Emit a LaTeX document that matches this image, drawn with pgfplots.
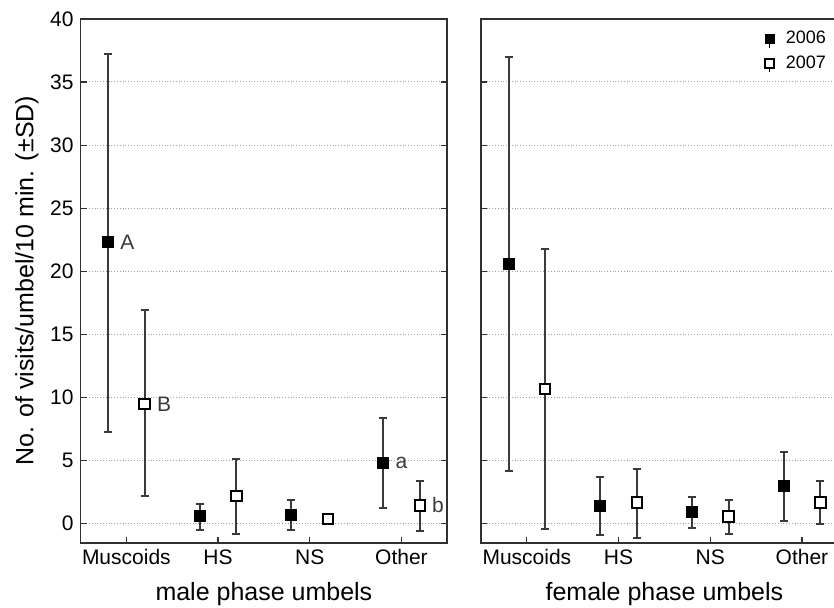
\documentclass[border=0pt]{standalone}
\usepackage{fontspec}
\setmainfont{Liberation Sans}
\usepackage{pgfplots}
\usepackage{pgfplotstable}
\pgfplotsset{compat=1.18}

\definecolor{axgray}{HTML}{303030}
\definecolor{errgray}{HTML}{3A3A3A}

\pgfplotstableread{
x y ep em
-0.2 22.3 14.9 15.0
0.8 0.6 1.0 1.1
1.8 0.7 1.2 1.2
2.8 4.8 3.6 3.55
}\LA
\pgfplotstableread{
x y ep em
0.2 9.5 7.4 7.3
1.2 2.2 2.9 3.05
2.2 0.4 0.35 0.35
3.2 1.45 1.95 2.05
}\LB
\pgfplotstableread{
x y ep em
-0.2 20.6 16.4 16.4
0.8 1.4 2.27 2.27
1.8 0.92 1.22 1.22
2.8 3.0 2.68 2.82
}\RA
\pgfplotstableread{
x y ep em
0.2 10.7 11.1 11.1
1.2 1.7 2.66 2.8
2.2 0.58 1.32 1.38
3.2 1.7 1.7 1.7
}\RB

\pgfplotsset{
  panel/.style={
    scale only axis, width=183.4pt, height=261.9pt,
    xmin=-0.5, xmax=3.5, ymin=-1.5, ymax=40,
    xtick={0,1,2,3}, xticklabels={Muscoids,HS,NS,Other},
    ytick={0,5,...,40},
    /pgf/number format/assume math mode=true,
    ymajorgrids, grid style={densely dotted, gray!75, line width=0.5pt},
    tick align=inside, xtick pos=bottom, ytick pos=both, yticklabel pos=left,
    major tick length=3pt,
    axis line style={axgray, line width=0.9pt},
    tick style={axgray, line width=0.6pt},
    tick label style={font=\fontsize{10.5}{12}\selectfont, text=black},
    label style={font=\fontsize{12.5}{15}\selectfont, text=black},
    xlabel style={at={(axis description cs:0.5,0)}, anchor=center, yshift=-25.5pt},
    error bars/y dir=both, error bars/y explicit,
    error bars/error bar style={errgray, line width=1pt},
    error bars/error mark options={rotate=90, errgray, line width=1pt, mark size=2pt},
  },
  s06/.style={only marks, mark=square*, mark size=2.6pt,
    mark options={fill=black, draw=black, line width=0.8pt}},
  s07/.style={only marks, mark=square*, mark size=2.6pt,
    mark options={fill=white, draw=black, line width=1pt}},
}

\begin{document}
\begin{tikzpicture}
\begin{axis}[panel, at={(0,0)}, anchor=south west,
  xlabel={male phase umbels},
  ylabel={No. of visits/umbel/10 min. (\textpm SD)},
  ylabel style={at={(axis description cs:-0.146,0.5)}, anchor=center},
]
\addplot[s06] table[x=x, y=y, y error plus=ep, y error minus=em] {\LA};
\addplot[s07] table[x=x, y=y, y error plus=ep, y error minus=em] {\LB};
\node[anchor=west, inner sep=0pt, xshift=6pt, font=\fontsize{10.5}{12}\selectfont, text=errgray] at (axis cs:-0.2,22.3) {A};
\node[anchor=west, inner sep=0pt, xshift=6pt, font=\fontsize{10.5}{12}\selectfont, text=errgray] at (axis cs:0.2,9.5) {B};
\node[anchor=west, inner sep=0pt, xshift=6pt, font=\fontsize{10.5}{12}\selectfont, text=errgray] at (axis cs:2.8,4.8) {a};
\node[anchor=west, inner sep=0pt, xshift=6pt, font=\fontsize{10.5}{12}\selectfont, text=errgray] at (axis cs:3.2,1.45) {b};
\end{axis}
\begin{axis}[panel, at={(200.25pt,0)}, anchor=south west,
  yticklabels={},
  xlabel={female phase umbels},
  legend style={at={(rel axis cs:0.952,0.985)}, anchor=north east, draw=none, fill=none,
    font=\fontsize{9}{10.5}\selectfont, inner sep=0pt, row sep=0.5pt,
    cells={anchor=west}},
  legend image code/.code={
    \path[draw=none, fill=none] (0pt,0pt) rectangle (7pt,0pt);
    \draw[black, line width=0.7pt] (1pt,-4.4pt) -- (1pt,0pt);
    \draw[#1, mark size=2.2pt] plot coordinates {(1pt,0pt)};
  },
]
\addplot[s06] table[x=x, y=y, y error plus=ep, y error minus=em] {\RA};
\addlegendentry{2006}
\addplot[s07] table[x=x, y=y, y error plus=ep, y error minus=em] {\RB};
\addlegendentry{2007}
\end{axis}
\pgfresetboundingbox
\path[use as bounding box] (-40.25pt,-32.65pt) rectangle (376.75pt,271.35pt);
\end{tikzpicture}
\end{document}
